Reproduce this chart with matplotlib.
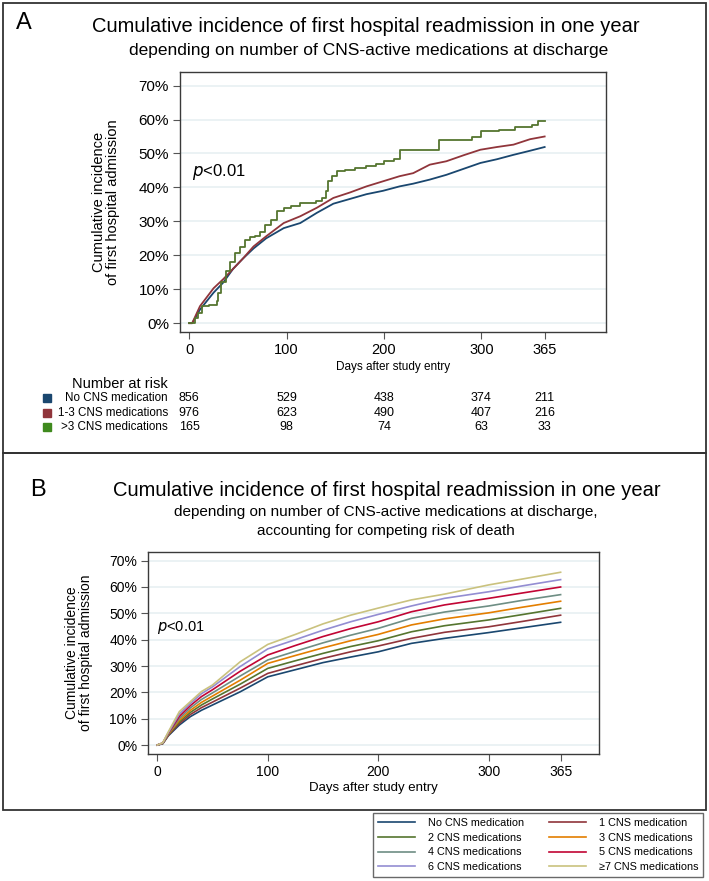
import matplotlib
matplotlib.use("Agg")
import matplotlib.pyplot as plt
from matplotlib.patches import Rectangle

W, H = 709, 881

# ---- data: panel A (Kaplan-Meier type) ----
a_days_blue = [0, 3, 11, 25, 35, 45, 55, 66, 79, 97, 114, 131, 148, 165, 182, 199,
               216, 230, 247, 264, 282, 299, 316, 333, 350, 365]
a_blue = [0, 0, 4, 9, 12, 16, 19, 22, 25, 28, 29.5, 32.5, 35.2, 36.6, 38, 39,
          40.3, 41.1, 42.3, 43.7, 45.5, 47.2, 48.3, 49.6, 50.8, 51.9]
a_red = [0, 0, 5, 10.3, 13, 16, 19, 22.6, 25.6, 29.5, 31.5, 34, 36.9, 38.5, 40.3, 41.8,
         43.3, 44.2, 46.7, 47.7, 49.5, 51.1, 51.9, 52.6, 54.2, 55]
a_days_green = [0, 6, 9, 13, 20, 28, 30, 33, 38, 42, 47, 52, 57, 62, 68, 73, 78, 84, 90,
                97, 105, 114, 122, 130, 136, 140, 143, 147, 152, 160, 170, 182, 192, 200,
                210, 216, 250, 257, 290, 300, 318, 335, 352, 358, 365]
a_green = [0, 1.5, 3, 5, 5.5, 6.5, 9, 12, 15.5, 18, 20.6, 22.5, 24.5, 25.5, 25.6, 27, 29,
           30.5, 33, 34, 34.4, 35.4, 35.4, 35.9, 37, 39, 42, 43.3, 44.7, 45, 45.7, 46.2,
           47, 47.7, 48.4, 51.1, 51.1, 54.1, 54.9, 56.5, 57, 57.8, 58.5, 59.6, 59.6]

risk_ticks = [0, 100, 200, 300, 365]
risk_labels = ["No CNS medication", "1-3 CNS medications", ">3 CNS medications"]
risk_none = [856, 529, 438, 374, 211]
risk_1to3 = [976, 623, 490, 407, 216]
risk_gt3 = [165, 98, 74, 63, 33]

# ---- data: panel B (competing risk, 8 groups) ----
b_days = [0, 5, 10, 20, 30, 40, 50, 75, 100, 125, 150, 175, 200, 230, 260, 300, 330, 365]
b_none = [0, 0.5, 3.5, 7.6, 10.8, 13.2, 15.2, 20.2, 25.9, 28.6, 31.3, 33.4, 35.4, 38.6, 40.5, 42.7, 44.5, 46.6]
b_1 = [0, 0.6, 3.7, 8.2, 11.6, 14.2, 16.3, 21.6, 27.2, 30.1, 32.9, 35.4, 37.6, 40.5, 42.8, 44.9, 46.9, 49.3]
b_2 = [0, 0.6, 3.9, 8.8, 12.4, 15.2, 17.5, 23.1, 29.1, 32.0, 34.8, 37.4, 39.6, 43.0, 45.3, 47.5, 49.5, 51.9]
b_3 = [0, 0.7, 4.1, 9.4, 13.2, 16.2, 18.6, 24.6, 31.0, 34.0, 36.9, 39.6, 42.0, 45.6, 47.9, 50.2, 52.3, 54.6]
b_4 = [0, 0.7, 4.3, 10.1, 14.1, 17.3, 19.8, 26.2, 32.3, 35.6, 38.8, 41.7, 44.3, 48.1, 50.5, 52.8, 54.9, 57.1]
b_5 = [0, 0.8, 4.5, 10.9, 15.0, 18.4, 21.0, 28.0, 34.2, 37.8, 41.2, 44.2, 46.8, 50.6, 53.2, 55.7, 57.7, 60.0]
b_6 = [0, 0.8, 4.7, 11.8, 15.8, 19.5, 22.1, 29.8, 36.5, 40.0, 43.6, 46.8, 49.6, 52.8, 55.7, 58.2, 60.4, 62.8]
b_7 = [0, 0.9, 5.0, 12.7, 16.5, 20.3, 22.8, 31.6, 38.2, 42.0, 46.0, 49.3, 52.0, 55.1, 57.3, 60.8, 63.0, 65.6]
b_labels = ["No CNS medication", "1 CNS medication", "2 CNS medications", "3 CNS medications",
            "4 CNS medications", "5 CNS medications", "6 CNS medications", "\u22657 CNS medications"]

# stata s2color
navy, maroon, fgreen = "#1a476f", "#90353b", "#55752f"
b_colors = [navy, maroon, fgreen, "#e37e00", "#6e8e84", "#c10534", "#938dd2", "#cac27e"]

plt.rcParams["font.family"] = ["Liberation Sans", "DejaVu Sans"]


def fx(x):
    return x / W


def fy(y):
    return 1 - y / H


def ax_rect(l, t, r, b):
    return [fx(l), fy(b), (r - l) / W, (b - t) / H]


fig = plt.figure(figsize=(W / 100, H / 100), dpi=100)

# panel frames
for (l, t, r, b) in [(3, 3, 706, 453), (3, 453, 706, 810)]:
    fig.patches.append(Rectangle((fx(l), fy(b)), (r - l) / W, (b - t) / H,
                                 transform=fig.transFigure, fill=False,
                                 edgecolor="#333333", lw=1.3))

grid_c = "#e8f0f2"
frame_c = "#3a3a3a"


def style_axes(ax, fs_y, fs_x):
    for s in ax.spines.values():
        s.set_color(frame_c)
        s.set_linewidth(1.0)
    ax.set_yticks(range(0, 71, 10))
    ax.set_yticklabels([f"{v}%" for v in range(0, 71, 10)], fontsize=fs_y)
    ax.set_xticks(risk_ticks)
    ax.set_xticklabels([str(v) for v in risk_ticks], fontsize=fs_x)
    ax.tick_params(length=5, color="#555555", pad=3)
    ax.yaxis.grid(True, color=grid_c, lw=1.2)
    ax.set_axisbelow(True)


# ---------------- panel A ----------------
axA = fig.add_axes(ax_rect(180, 72, 606, 332))
axA.plot(a_days_blue, a_blue, color=navy, lw=1.3)
axA.plot(a_days_blue, a_red, color=maroon, lw=1.3)
axA.plot(a_days_green, a_green, color=fgreen, lw=1.3, drawstyle="steps-post")
axA.set_xlim(-9.5, 428)
axA.set_ylim(-2.6, 74)
style_axes(axA, 11, 10.5)
axA.set_xlabel("Days after study entry", fontsize=8.5, labelpad=3)
axA.set_ylabel("Cumulative incidence\nof first hospital admission", fontsize=10.5,
               linespacing=1.0, labelpad=13)
axA.text(3, 44.6, "$p$<0.01", fontsize=12, va="center")

fig.text(fx(24), fy(23), "A", fontsize=17, ha="center", va="center")
fig.text(fx(366), fy(26), "Cumulative incidence of first hospital readmission in one year",
         fontsize=14.5, ha="center", va="center")
fig.text(fx(369), fy(50), "depending on number of CNS-active medications at discharge",
         fontsize=12.5, ha="center", va="center")

# number at risk table
fig.text(fx(120), fy(384), "Number at risk", fontsize=10.5, ha="center", va="center")
row_y = [398, 413, 427]
sq_cols = [navy, maroon, "#3f8a1e"]
tr = axA.get_xaxis_transform()
for lab, vals, y, c in zip(risk_labels, [risk_none, risk_1to3, risk_gt3], row_y, sq_cols):
    fig.patches.append(Rectangle((fx(43), fy(y + 4)), 7.5 / W, 8 / H,
                                 transform=fig.transFigure, color=c))
    fig.text(fx(168), fy(y), lab, fontsize=8.4, ha="right", va="center")
    for d, v in zip(risk_ticks, vals):
        axA.text(d, (332 - y) / 260, str(v), transform=tr, fontsize=9,
                 ha="center", va="center", clip_on=False)

# ---------------- panel B ----------------
axB = fig.add_axes(ax_rect(148.3, 551.7, 599.3, 754))
b_series = [b_none, b_1, b_2, b_3, b_4, b_5, b_6, b_7]
handles = []
for vals, c, lab in zip(b_series, b_colors, b_labels):
    h, = axB.plot(b_days, vals, color=c, lw=1.2, label=lab)
    handles.append(h)
axB.set_xlim(-8.1, 400)
axB.set_ylim(-3.4, 73.4)
style_axes(axB, 10, 10)
axB.set_xlabel("Days after study entry", fontsize=9.5, labelpad=2)
axB.set_ylabel("Cumulative incidence\nof first hospital admission", fontsize=10,
               linespacing=1.0, labelpad=12)
axB.text(0, 44.8, "$p$<0.01", fontsize=10.5, va="center")

fig.text(fx(38), fy(490), "B", fontsize=17, ha="center", va="center")
fig.text(fx(387), fy(490), "Cumulative incidence of first hospital readmission in one year",
         fontsize=14.5, ha="center", va="center")
fig.text(fx(386), fy(512), "depending on number of CNS-active medications at discharge,",
         fontsize=11, ha="center", va="center")
fig.text(fx(386), fy(531), "accounting for competing risk of death",
         fontsize=11, ha="center", va="center")

order = [0, 2, 4, 6, 1, 3, 5, 7]
leg = fig.legend([handles[i] for i in order], [b_labels[i] for i in order], ncol=2,
                 loc="upper left", bbox_to_anchor=(fx(373), fy(813), 330 / W, 0),
                 mode="expand", borderaxespad=0, fontsize=7.8, frameon=True, fancybox=False,
                 handlelength=3.4, handletextpad=1.2, labelspacing=0.43,
                 borderpad=0.46, columnspacing=1.8)
leg.get_frame().set_edgecolor("#444444")
leg.get_frame().set_linewidth(1.0)

fig.savefig("out.png", dpi=100)
